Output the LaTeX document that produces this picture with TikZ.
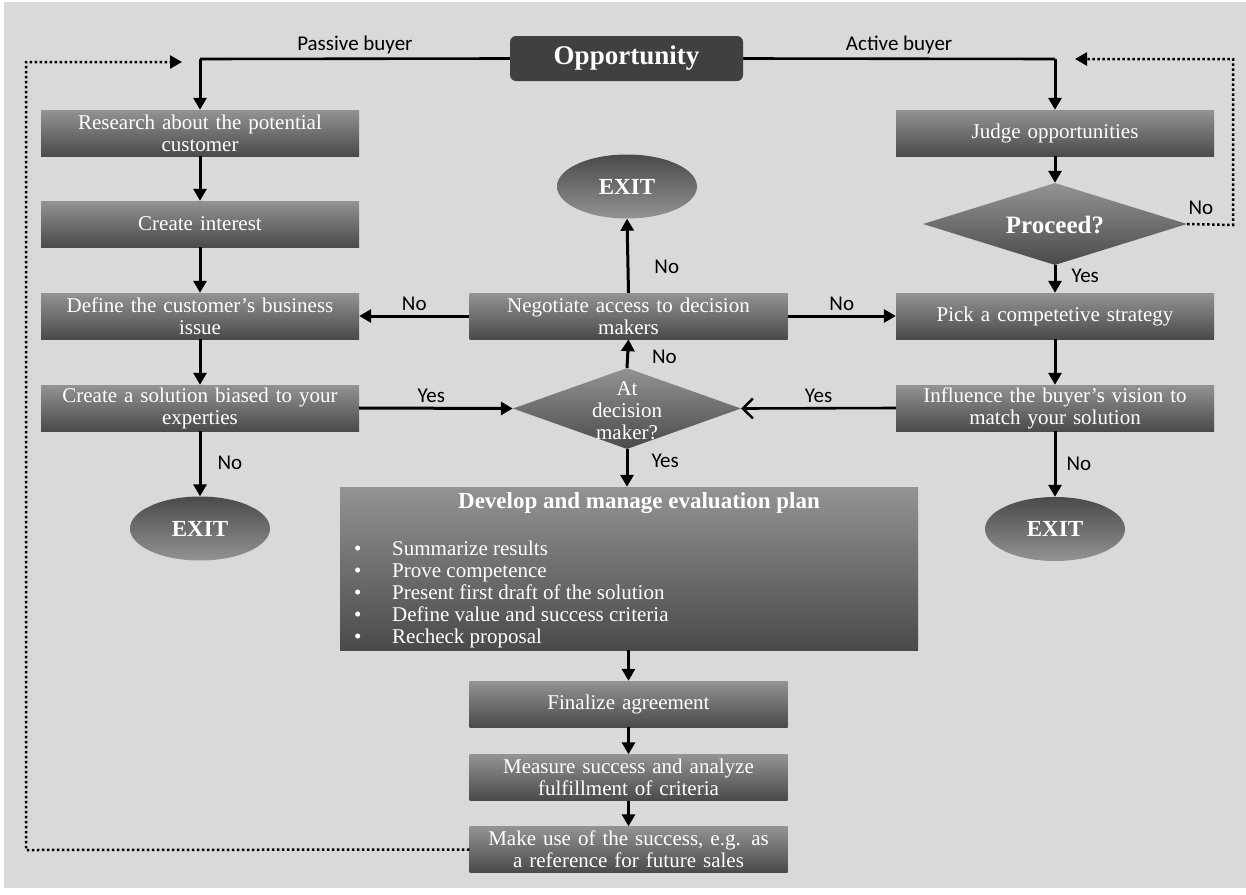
\documentclass[tikz,border=0pt]{standalone}
\usepackage{fontspec}
\setmainfont{Liberation Serif}
\newfontfamily\labfont{Carlito}
\usetikzlibrary{arrows.meta,shapes.geometric}
\definecolor{bgc}{HTML}{D9D9D9}
\definecolor{btop}{HTML}{939393}
\definecolor{bbot}{HTML}{4A4A4A}
\definecolor{odark}{HTML}{404040}
\begin{document}
\begin{tikzpicture}[x=1pt,y=-1pt,
  proc/.style={rectangle, minimum width=318pt, minimum height=46pt, top color=btop, bottom color=bbot,
    text=white, align=center, text width=316pt, font=\fontsize{21}{22}\selectfont, inner sep=0pt},
  exitnode/.style={ellipse, minimum width=140pt, minimum height=64pt, top color=bbot, bottom color=btop,
    text=white, font=\bfseries\fontsize{23}{24}\selectfont, inner sep=0pt},
  dec/.style={diamond, top color=btop, bottom color=bbot, inner sep=0pt},
  arr/.style={line width=3pt, -{Triangle[length=12pt,width=13pt]}},
  dots/.style={line width=2.5pt, dash pattern=on 2.5pt off 2.5pt, -{Triangle[length=12pt,width=13pt]}},
  lab/.style={font=\labfont\fontsize{21}{22}\selectfont, text=black, inner sep=1pt},
  wtext/.style={text=white, align=center, inner sep=0pt}
]
\useasboundingbox (0,0) rectangle (1246,894);
\fill[white] (0,0) rectangle (1246,894);
\fill[bgc] (4,2) rectangle (1246,888);

% nodes
\node[rectangle, rounded corners=6pt, fill=odark, minimum width=233pt, minimum height=45pt, text=white,
  font=\bfseries\fontsize{27}{28}\selectfont, inner sep=0pt] (opp) at (626.5,58.5) {Opportunity};

\node[proc] (res) at (200,133) {Research about the potential\\customer};
\node[proc] (int) at (200,224) {Create interest};
\node[proc] (def) at (200,316) {Define  the customer’s business\\issue};
\node[proc] (sol) at (200,408) {Create a solution biased to your\\experties};
\node[exitnode] (exl) at (200,528.5) {EXIT};

\node[proc] (neg) at (628.5,316) {Negotiate  access to decision\\makers};
\node[exitnode] (ext) at (627,186.5) {EXIT};
\node[dec, minimum width=228pt, minimum height=81pt] (dm) at (627,408.5) {};
\node[wtext, font=\fontsize{21}{22}\selectfont] (dmtext) at (627,411) {At\\decision\\maker?};

\node[rectangle, minimum width=578pt, minimum height=163pt, top color=btop, bottom color=bbot, inner sep=0pt] (dev) at (629,568.5) {};
\node[wtext, font=\bfseries\fontsize{23}{24}\selectfont] (devtitle) at (639,503) {Develop and manage evaluation plan};
\node[text=white, align=left, anchor=north west, inner sep=0pt, font=\fontsize{21}{22}\selectfont] (devlist) at (354,541)
 {\makebox[38pt][l]{\textbullet}Summarize  results\\
  \makebox[38pt][l]{\textbullet}Prove competence\\
  \makebox[38pt][l]{\textbullet}Present first draft of the solution\\
  \makebox[38pt][l]{\textbullet}Define  value  and success criteria\\
  \makebox[38pt][l]{\textbullet}Recheck proposal};

\node[proc] (fin) at (628.5,704) {Finalize  agreement};
\node[proc] (mea) at (628.5,777.5) {Measure success and analyze\\fulfillment  of criteria};
\node[proc] (use) at (628.5,849.5) {Make use of the success, e.g. as\\a reference for future sales};

\node[proc] (jud) at (1055,133) {Judge opportunities};
\node[dec, minimum width=264pt, minimum height=82pt] (pro) at (1055,224) {};
\node[wtext, font=\bfseries\fontsize{25}{26}\selectfont] (protext) at (1055,225) {Proceed?};
\node[proc] (pic) at (1055,316) {Pick a competetive strategy};
\node[proc] (inf) at (1055,408) {Influence  the buyer’s vision  to\\match your solution};
\node[exitnode] (exr) at (1055,529) {EXIT};

% corner coordinates
\coordinate (cpl) at (200,59);
\coordinate (cal) at (1055,59);
\coordinate (dl1) at (26,850);
\coordinate (dl2) at (26,62);
\coordinate (dl3) at (182,62);
\coordinate (dr1) at (1233,225);
\coordinate (dr2) at (1233,59);
\coordinate (dr3) at (1075,59);

% connectors
\draw[line width=2.6pt] (opp.west) -- node[lab, above=3pt] (lpass) {Passive buyer} (cpl);
\draw[arr] (cpl) -- (res.north);
\draw[line width=2.6pt] (opp.east) -- node[lab, above=3pt] (lact) {Active buyer} (cal);
\draw[arr] (cal) -- (jud.north);

\draw[arr] (res) -- (int);
\draw[arr] (int) -- (def);
\draw[arr] (def) -- (sol);
\draw[arr] (sol) -- node[lab, right=15pt, pos=0.48] (l1) {No} (exl);
\draw[arr] (sol.east) -- node[lab, above=3pt, pos=0.47] (l2) {Yes} (dm.west);
\draw[line width=2.6pt, -{Straight Barb[length=10pt,width=20pt,line width=2.4pt]}] (inf.west) -- node[lab, above=3pt] (l3) {Yes} (dm.east);
\draw[arr] (dm.north) -- node[lab, right=22pt, pos=0.4] (l4) {No} (neg.south);
\draw[arr] (neg.north) -- node[lab, right=24pt, pos=0.35] (l5) {No} (ext.south);
\draw[arr] (neg.west) -- node[lab, above=3pt] (l6) {No} (def.east);
\draw[arr] (neg.east) -- node[lab, above=3pt] (l7) {No} (pic.west);
\draw[arr] (dm.south) -- node[lab, right=22pt, pos=0.32] (l8) {Yes} (dev.north -| dm.south);
\draw[arr] (dev.south -| fin.north) -- (fin.north);
\draw[arr] (fin) -- (mea);
\draw[arr] (mea) -- (use);

\draw[arr] (jud) -- (pro);
\draw[arr] (pro.south) -- node[lab, right=14pt, pos=0.4] (l9) {Yes} (pic.north);
\draw[arr] (pic) -- (inf);
\draw[arr] (inf) -- node[lab, right=9pt, pos=0.5] (l10) {No} (exr);

\draw[dots] (pro.east) -- node[lab, above=7pt, pos=0.3] (l11) {No} (dr1) -- (dr2) -- (dr3);
\draw[dots] (use.west) -- (dl1) -- (dl2) -- (dl3);
\end{tikzpicture}
\end{document}
